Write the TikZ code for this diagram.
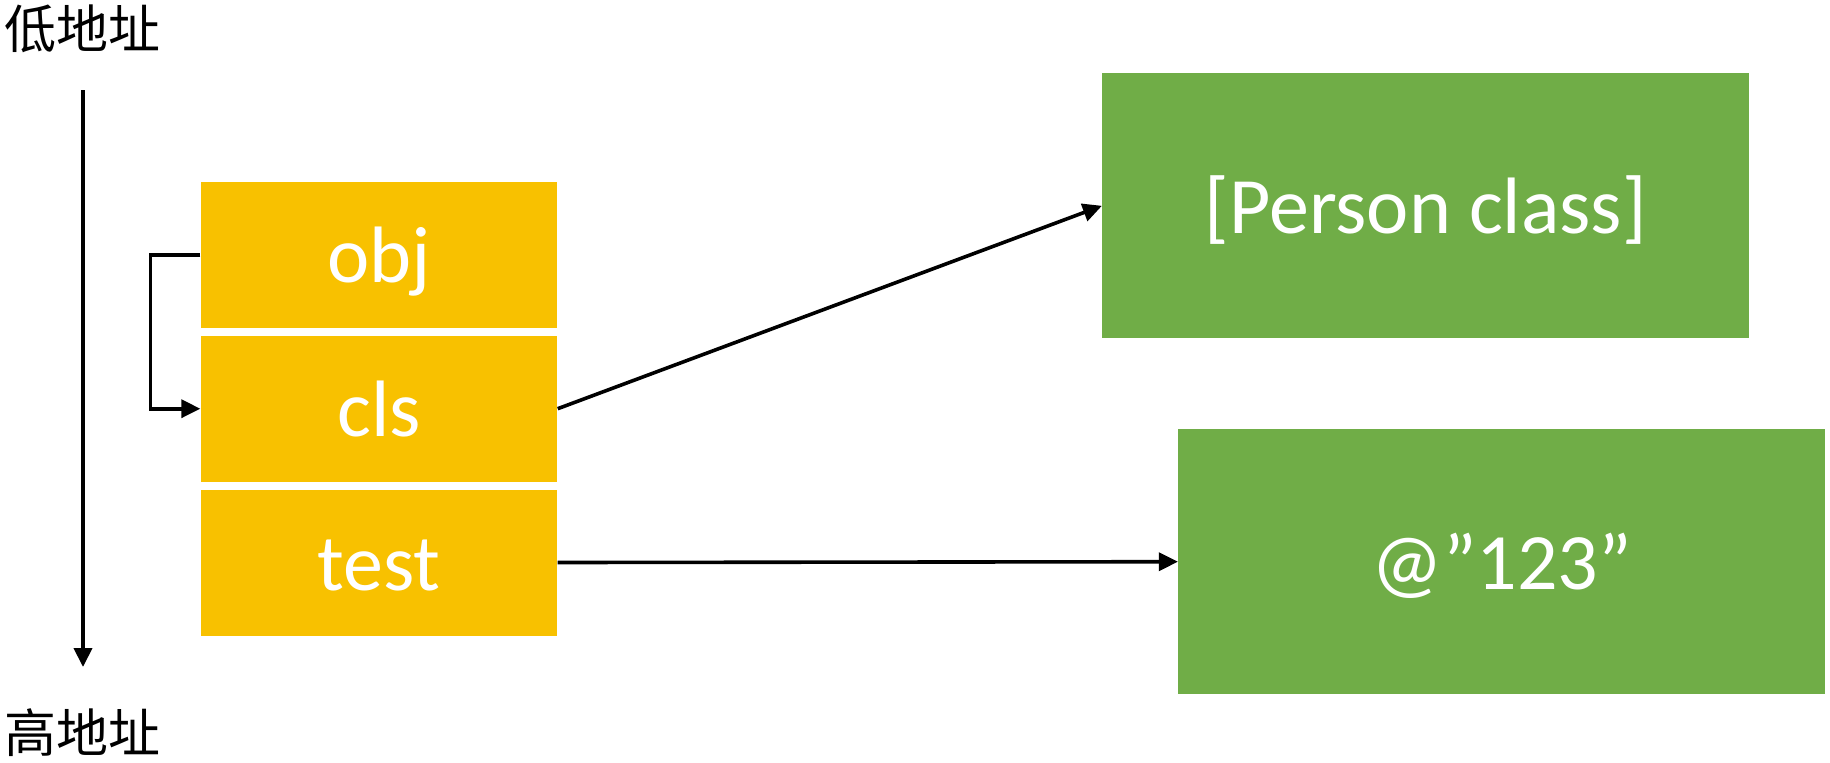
\documentclass[tikz,border=0pt]{standalone}
\usepackage{fontspec}
\usetikzlibrary{arrows.meta}
\newfontfamily\calibri{Carlito}
\newfontfamily\cjk{Noto Sans CJK SC}
\definecolor{memyellow}{HTML}{F8C100}
\definecolor{memgreen}{HTML}{70AD47}
\tikzset{
  boxtext/.style={text=white, font=\calibri\fontsize{40}{48}\selectfont, text height=28pt, text depth=0pt, inner sep=0pt, draw=none, rectangle},
  slot/.style={boxtext, fill=memyellow, minimum width=178.3pt, minimum height=73pt},
  objbox/.style={boxtext, fill=memgreen},
  conn/.style={line width=1.8pt, -{Triangle[length=9.5pt,width=9pt]}},
  addr/.style={font=\cjk\fontsize{26}{30}\selectfont, inner sep=0pt}
}
\begin{document}
\begin{tikzpicture}[x=0.5pt,y=-0.5pt]
\useasboundingbox (0,0) rectangle (1830,762);
% address labels
\node[addr] (low) at (82.5,29) {低地址};
\node[addr] (high) at (82.5,733) {高地址};
\coordinate (axtop) at (83,90);
\coordinate (axbot) at (83,667);
\draw[conn, line width=2pt] (axtop) -- (axbot);
% stack slots
\node[slot] (obj) at (379,254.7) {obj};
\node[slot] (cls) at (379,408.7) {cls};
\node[slot] (test) at (379,562.5) {test};
% heap objects
\node[objbox, minimum width=323.5pt, minimum height=132.5pt] (pc) at (1425.8,205.8) {[Person class]};
\node[objbox, minimum width=323.4pt, minimum height=132.4pt] (val) at (1501.7,561.7) {@”123”};
% connectors
\draw[conn] (obj.west) -- ++(-50,0) |- (cls.west);
\draw[conn] (cls.east) -- (pc.west);
\draw[conn] (test.east) -- (val.west);
\end{tikzpicture}
\end{document}
